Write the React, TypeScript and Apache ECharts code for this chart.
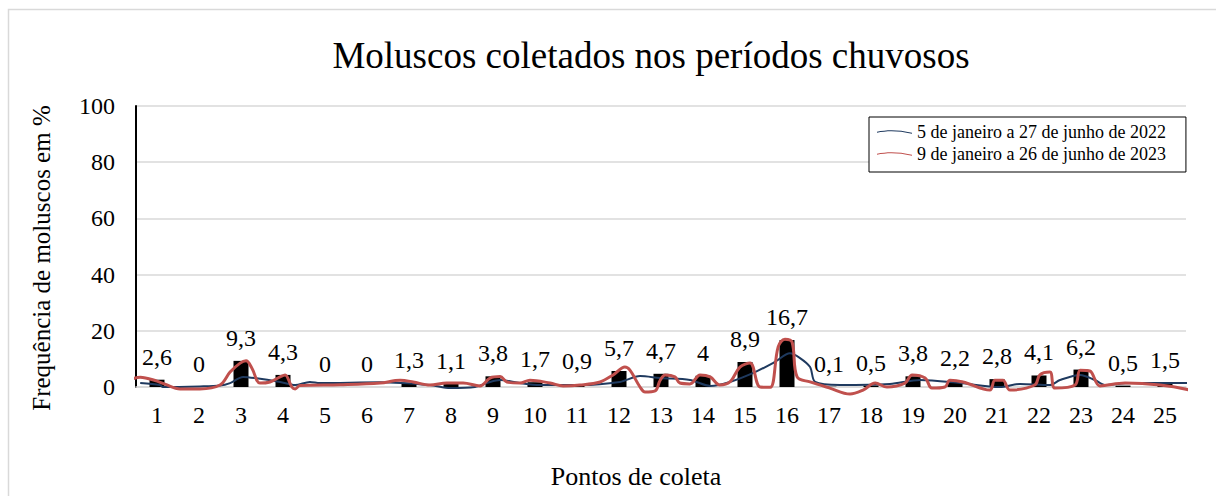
import React, { useEffect, useRef } from "react";
import * as echarts from "echarts";

const categories = ["1","2","3","4","5","6","7","8","9","10","11","12","13","14","15","16","17","18","19","20","21","22","23","24","25"];
const barValues = [2.6, 0, 9.3, 4.3, 0, 0, 1.3, 1.1, 3.8, 1.7, 0.9, 5.7, 4.7, 4, 8.9, 16.7, 0.1, 0.5, 3.8, 2.2, 2.8, 4.1, 6.2, 0.5, 1.5];
const yTicks = [0, 20, 40, 60, 80, 100];

// line traces: [position along categories, value]
const line2022: [number, number][] = [
  [0.6, 1.4], [1.07, 0.7], [1.14, 0], [2.02, 0.2], [2.5, 0.5], [2.74, 1.4], [3.05, 3.6], [3.33, 3.2],
  [3.93, 1.8], [4.29, 0.7], [4.64, 1.8], [4.88, 1.4], [6.31, 1.7], [7.5, 0.7], [7.98, -0.4], [8.57, 0],
  [8.93, 1.8], [9.17, 2.5], [9.64, 1.4], [10.12, 0.7], [11.07, 0.7], [12.02, 1.8], [12.5, 3.9], [12.98, 3.2],
  [13.69, 2.5], [14.17, 0.4], [14.64, 1.8], [15.24, 5.3], [15.71, 8.9], [16.07, 12], [16.31, 10.3], [16.55, 7.1],
  [16.67, 1.8], [17.26, 0.7], [18.45, 1.1], [19.17, 2.5], [20.12, 1.4], [21.07, 0], [21.55, 1.1], [22.26, 0.7],
  [22.5, 2.5], [22.98, 4.3], [23.33, 2.5], [23.57, 0.7], [24.17, 1.4], [24.88, 1.4], [25.6, 1.4]
];
const line2023: [number, number][] = [
  [0.4, 2.8], [0.6, 3.5], [1.0, 2.1], [1.19, 1.0], [1.55, -0.7], [2.02, -0.7], [2.5, 0.7], [2.74, 5.3],
  [2.98, 8.5], [3.12, 9.3], [3.26, 6.7], [3.45, 1.4], [3.69, 1.8], [3.93, 3.6], [4.05, 4.3], [4.21, 0],
  [4.29, -0.7], [4.4, 0.5], [5.36, 0.8], [6.31, 1.4], [6.79, 2.4], [7.1, 1.8], [7.5, 0.7], [7.9, 1.4],
  [8.29, 1.4], [8.69, 0.4], [8.93, 3.2], [9.17, 3.7], [9.33, 1.8], [9.64, 1.4], [9.88, 2.4], [10.36, 1.4],
  [10.67, 0.4], [11.07, 0.7], [11.55, 1.8], [11.86, 4.3], [12.14, 7.1], [12.26, 6.0], [12.5, 0], [12.62, -1.8],
  [12.86, -1.4], [12.98, 2.4], [13.1, 4.3], [13.33, 3.6], [13.45, 1.4], [13.69, 1.1], [13.93, 4.3], [14.17, 3.6],
  [14.4, 0.7], [14.64, 1.8], [14.88, 7.1], [15.12, 8.5], [15.36, 0], [15.6, -0.1], [15.79, 14.3], [15.95, 17],
  [16.12, 16], [16.24, 3.6], [16.55, 1.8], [17.02, -0.4], [17.5, -2.5], [17.81, -1.1], [18.1, 1.4], [18.38, 0],
  [18.81, 1.4], [18.98, 4.3], [19.29, 3.2], [19.45, -0.4], [19.76, 0], [19.88, 2.4], [20.19, 1.8], [20.83, -1.1],
  [20.95, 2.4], [21.14, 2.4], [21.31, -1.1], [21.9, 0.7], [22.02, 4.3], [22.26, 5.3], [22.38, -0.4], [22.86, 0.7],
  [22.98, 6.0], [23.21, 5.7], [23.45, 0.4], [24.05, 1.4], [24.88, 0.7], [25.6, -1.1]
];

const seriesNames = ["5 de janeiro a 27 de junho de 2022", "9 de janeiro a 26 de junho de 2023"];
const titleText = "Moluscos coletados nos períodos chuvosos";
const yName = "Frequência de moluscos em %";
const xName = "Pontos de coleta";

const FONT = "'Liberation Serif', 'Times New Roman', serif";

export default function App() {
  const ref = useRef<HTMLDivElement>(null);
  useEffect(() => {
    if (!ref.current) return;
    const chart = echarts.init(ref.current, null, { renderer: "svg" });
    chart.setOption({
      animation: false,
      backgroundColor: "#ffffff",
      textStyle: { fontFamily: FONT },
      graphic: [
        { type: "rect", shape: { x: 8.5, y: 9.5, width: 1230, height: 520 }, style: { fill: "none", stroke: "#d9d9d9", lineWidth: 1.5 }, silent: true, z: -10 },
        { type: "text", x: 651, y: 55, style: { text: titleText, font: `37px ${FONT}`, fill: "#000", textAlign: "center", textVerticalAlign: "middle" } },
        { type: "text", x: 636, y: 476, style: { text: xName, font: `26px ${FONT}`, fill: "#000", textAlign: "center", textVerticalAlign: "middle" } },
        { type: "text", x: 41, y: 258, rotation: Math.PI / 2, style: { text: yName, font: `25px ${FONT}`, fill: "#000", textAlign: "center", textVerticalAlign: "middle" } },
      ],
      legend: {
        orient: "vertical",
        left: 869,
        top: 117,
        padding: [6, 20, 9, 8],
        backgroundColor: "#fff",
        borderColor: "#000",
        borderWidth: 1,
        itemWidth: 35,
        itemHeight: 4,
        itemGap: 4,
        icon: "path://M0,3 C10,1 20,1 33,4 L33,5 C20,2 10,2 0,4 Z",
        textStyle: { fontFamily: FONT, fontSize: 18, color: "#000", lineHeight: 18 },
        data: seriesNames,
      },
      grid: { left: 136, right: 30, top: 106, bottom: 109 },
      xAxis: [
        {
          type: "category",
          data: categories,
          axisLine: { lineStyle: { color: "#d9d9d9", width: 1.5 } },
          axisTick: { show: false },
          axisLabel: { fontFamily: FONT, fontSize: 24, color: "#000", margin: 16 },
        },
        { type: "value", min: 0.5, max: 25.5, show: false },
      ],
      yAxis: {
        type: "value",
        min: 0,
        max: 100,
        interval: 20,
        axisLine: { show: true, lineStyle: { color: "#000", width: 2 } },
        axisTick: { show: false },
        splitLine: { lineStyle: { color: "#d9d9d9", width: 1.5 } },
        axisLabel: { fontFamily: FONT, fontSize: 24, color: "#000", margin: 21, formatter: (v: number) => (yTicks.includes(v) ? String(v) : "") },
      },
      series: [
        {
          type: "bar",
          data: barValues,
          barWidth: 15,
          itemStyle: { color: "#000" },
          label: {
            show: true,
            position: "top",
            distance: 11,
            fontFamily: FONT,
            fontSize: 24,
            color: "#000",
            formatter: (p: any) => String(p.value).replace(".", ","),
          },
          z: 2,
        },
        {
          name: seriesNames[0],
          type: "line",
          xAxisIndex: 1,
          data: line2022,
          smooth: 0.3,
          showSymbol: false,
          clip: false,
          lineStyle: { color: "#1f3a5f", width: 2 },
          itemStyle: { color: "#1f3a5f" },
          z: 3,
        },
        {
          name: seriesNames[1],
          type: "line",
          xAxisIndex: 1,
          data: line2023,
          smooth: 0.35,
          showSymbol: false,
          clip: false,
          lineStyle: { color: "#c0504d", width: 3 },
          itemStyle: { color: "#c0504d" },
          z: 4,
        },
      ],
    });
    return () => chart.dispose();
  }, []);
  return <div ref={ref} style={{ position: "absolute", left: 0, top: 0, width: 1216, height: 496 }} />;
}
